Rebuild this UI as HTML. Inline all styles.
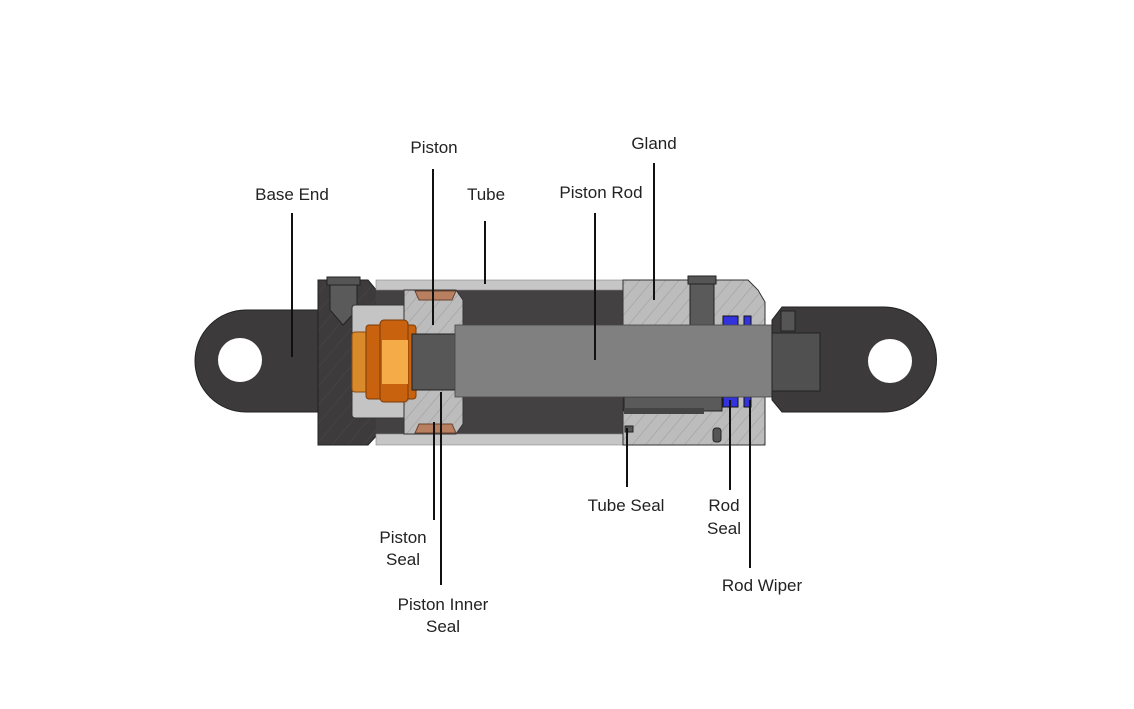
<!DOCTYPE html>
<html><head><meta charset="utf-8"><style>
html,body{margin:0;padding:0;background:#fff;width:1134px;height:709px;overflow:hidden}
svg text{font-family:"Liberation Sans",sans-serif;font-size:17px;fill:#222;text-anchor:middle}
</style></head><body>
<svg width="1134" height="709" viewBox="0 0 1134 709" xmlns="http://www.w3.org/2000/svg">
<defs>
<pattern id="h" width="10" height="10" patternUnits="userSpaceOnUse" patternTransform="rotate(40)">
<rect width="10" height="10" fill="#bcbcbc"/><line x1="0" y1="0" x2="0" y2="10" stroke="#9a9a9a" stroke-width="1"/>
</pattern>
<pattern id="hd" width="12" height="12" patternUnits="userSpaceOnUse" patternTransform="rotate(40)">
<rect width="12" height="12" fill="#3d3b3c"/><line x1="0" y1="0" x2="0" y2="12" stroke="#4a4849" stroke-width="1"/>
</pattern>
</defs>
<!-- base eye -->
<path d="M320,310 L246,310 A51,51 0 0 0 246,412 L320,412 Z" fill="#3c3a3b" stroke="#222" stroke-width="1"/>
<circle cx="240" cy="360" r="22" fill="#fff"/>
<!-- base block -->
<path d="M318,280 L368,280 L378,292 L378,434 L368,445 L318,445 Z" fill="url(#hd)" stroke="#222"/>
<rect x="327" y="277" width="33" height="8" fill="#555" stroke="#222"/>
<path d="M330,285 L357,285 L357,310 L343,325 L330,310 Z" fill="#5a5a5a" stroke="#222"/>
<!-- tube -->
<rect x="376" y="280" width="250" height="165" fill="#444143"/>
<rect x="376" y="280" width="250" height="10" fill="#c6c6c6" stroke="#888" stroke-width="0.6"/>
<rect x="376" y="434" width="250" height="11" fill="#c6c6c6" stroke="#888" stroke-width="0.6"/>
<!-- base inner -->
<rect x="352" y="305" width="54" height="113" rx="3" fill="#c4c4c4" stroke="#333"/>
<!-- piston -->
<path d="M404,290 L456,290 L463,300 L463,424 L456,434 L404,434 Z" fill="url(#h)" stroke="#333"/>
<path d="M415,291 L456,291 L452,300 L419,300 Z" fill="#b88060" stroke="#6b4430"/>
<path d="M415,433 L456,433 L452,424 L419,424 Z" fill="#b88060" stroke="#6b4430"/>
<!-- nut -->
<rect x="352" y="332" width="30" height="60" rx="3" fill="#d98a2a" stroke="#8a4a10"/>
<rect x="366" y="325" width="50" height="74" rx="3" fill="#c9620e" stroke="#7a3a08"/>
<rect x="380" y="320" width="28" height="82" rx="4" fill="#c9620e" stroke="#7a3a08"/>
<rect x="382" y="340" width="26" height="44" fill="#f5ab48"/>
<!-- rod stub -->
<rect x="412" y="334" width="45" height="56" fill="#575757" stroke="#222"/>
<!-- gland -->
<path d="M623,280 L748,280 L758,290 L765,302 L765,445 L623,445 Z" fill="url(#h)" stroke="#333"/>
<rect x="688" y="276" width="28" height="8" fill="#555" stroke="#222"/>
<rect x="690" y="284" width="24" height="42" fill="#5a5a5a" stroke="#222"/>
<rect x="624" y="397" width="98" height="14" fill="#5a5a5a" stroke="#222"/>
<rect x="624" y="408" width="80" height="6" fill="#444"/>
<rect x="713" y="428" width="8" height="14" rx="3" fill="#555" stroke="#222"/>
<rect x="625" y="426" width="8" height="6" fill="#555" stroke="#222"/>
<!-- blue seals -->
<rect x="723" y="316" width="15" height="10" fill="#3333dd" stroke="#111"/>
<rect x="744" y="316" width="7" height="10" fill="#3333dd" stroke="#111"/>
<rect x="723" y="397" width="15" height="10" fill="#3333dd" stroke="#111"/>
<rect x="744" y="397" width="7" height="10" fill="#3333dd" stroke="#111"/>
<!-- rod -->
<rect x="455" y="325" width="320" height="72" fill="#808080" stroke="#444" stroke-width="0.8"/>
<!-- rod eye -->
<path d="M782,307 L884,307 A51,51 0 0 1 884,412 L782,412 L772,400 L772,320 Z" fill="#3c3a3b" stroke="#222"/>
<circle cx="890" cy="361" r="22" fill="#fff"/>
<rect x="772" y="333" width="48" height="58" fill="#505050" stroke="#222"/>
<rect x="781" y="311" width="14" height="20" fill="#555" stroke="#222"/>
<!-- leader lines -->
<g stroke="#111" stroke-width="2">
<line x1="292" y1="213" x2="292" y2="357"/>
<line x1="433" y1="169" x2="433" y2="325"/>
<line x1="485" y1="221" x2="485" y2="284"/>
<line x1="595" y1="213" x2="595" y2="360"/>
<line x1="654" y1="163" x2="654" y2="300"/>
<line x1="434" y1="422" x2="434" y2="520"/>
<line x1="441" y1="392" x2="441" y2="585"/>
<line x1="627" y1="428" x2="627" y2="487"/>
<line x1="730" y1="400" x2="730" y2="490"/>
<line x1="750" y1="400" x2="750" y2="568"/>
</g>
<text x="292" y="200">Base End</text>
<text x="434" y="153">Piston</text>
<text x="486" y="200">Tube</text>
<text x="601" y="198">Piston Rod</text>
<text x="654" y="149">Gland</text>
<text x="626" y="511">Tube Seal</text>
<text x="724" y="511">Rod</text>
<text x="724" y="534">Seal</text>
<text x="762" y="591">Rod Wiper</text>
<text x="403" y="543">Piston</text>
<text x="403" y="565">Seal</text>
<text x="443" y="610">Piston Inner</text>
<text x="443" y="632">Seal</text>
</svg>
</body></html>
